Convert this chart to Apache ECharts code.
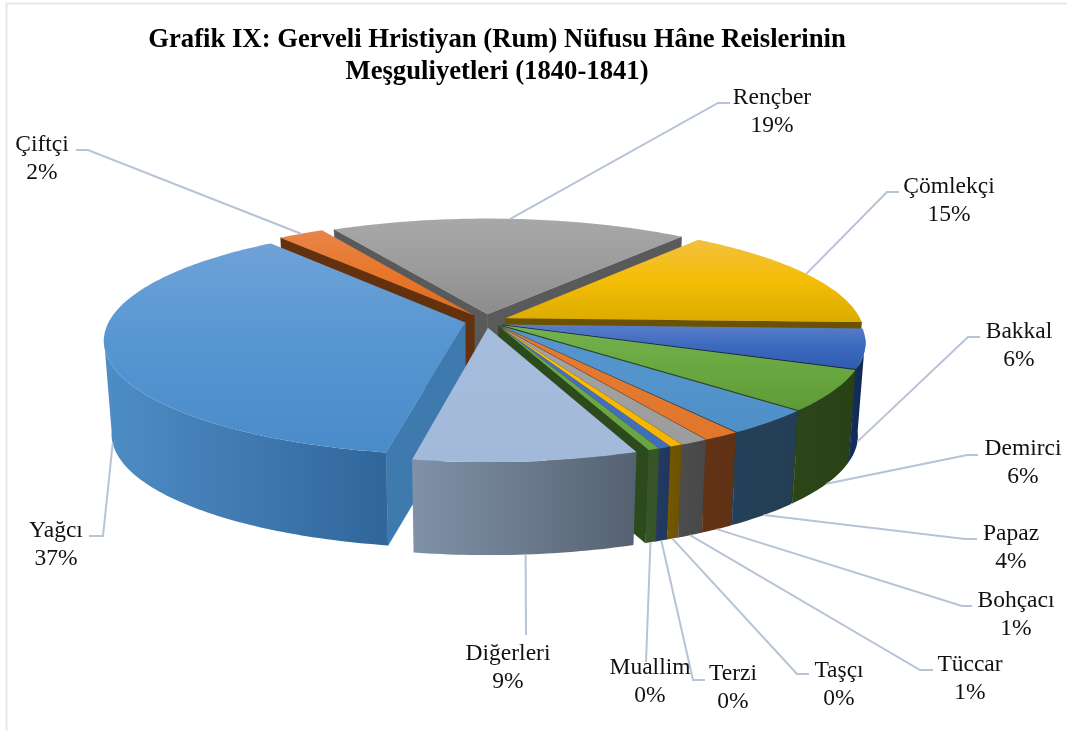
<!DOCTYPE html>
<html>
<head>
<meta charset="utf-8">
<title>Grafik IX</title>
<style>
	html, body { margin: 0; padding: 0; background: #fff; }
	#chart { width: 1067px; height: 731px; }
</style>
</head>
<body>
<div id="chart"></div>
<script src="https://cdn.jsdelivr.net/npm/echarts@6/dist/echarts.min.js"></script>
<script>
	let categories = ['Yağcı', 'Çiftçi', 'Rençber', 'Çömlekçi', 'Bakkal', 'Demirci', 'Papaz', 'Bohçacı', 'Tüccar', 'Taşçı', 'Terzi', 'Muallim', 'Diğerleri'];
	// in percent
	let shares = [36.55, 2.4, 18.7, 15.0, 5.52, 5.7, 3.55, 1.44, 1.08, 0.49, 0.48, 0.44, 8.65];

	// top face: light, mid, dark
	let topColors = [
		['#6FA2D7', '#5595D2', '#4A8BC9'],
		['#E8854A', '#E8772B', '#E26D1C'],
		['#A8A8A8', '#9C9C9C', '#8C8C8C'],
		['#F2C03F', '#F5BD05', '#DBAB00'],
		['#5A7EC8', '#3B69BF', '#2F5CAE'],
		['#75B150', '#69A840', '#5F9A38'],
		['#5495CE', '#5394CD', '#4F8FC8'],
		['#E2792E', '#E2792E', '#E0772C'],
		['#A3A3A3', '#A0A0A0', '#9C9C9C'],
		['#FFC000', '#FBBA00', '#F5B500'],
		['#4472C4', '#4270BF', '#3F6CBB'],
		['#70AD47', '#6CA944', '#68A540'],
		['#A6BCDC', '#A4BBDB', '#A2B9D9']
	];
	// outer wall: left, right
	let wallColors = [
		['#4E8DC5', '#30669A'],
		['#64310F', '#64310F'],
		['#555555', '#555555'],
		['#6B5200', '#6B5200'],
		['#14305F', '#112850'],
		['#2C4619', '#284115'],
		['#254159', '#233E54'],
		['#633316', '#5F3115'],
		['#4D4D4D', '#484848'],
		['#745700', '#6C5200'],
		['#223A66', '#20365F'],
		['#38572A', '#355323'],
		['#8092A9', '#556170']
	];
	// the two cut faces of a slice
	let cutColors = ['#3F7AAE', '#64310F', '#5A5A5A', '#6B5200', '#14284F', '#2A431A', '#243F55', '#5F3316', '#4A4A4A', '#6E5300', '#203864', '#2D4A1C', '#566373'];

	// label placement: centre of the text, then the bend and the end of its leader line
	let labelPlaces = [
		{ x: 56, y: 531, line: [[103, 536], [89, 536]] },
		{ x: 42, y: 145, line: [[88, 150], [76, 150]] },
		{ x: 772, y: 98, line: [[718, 103], [730, 103]] },
		{ x: 949, y: 187, line: [[887, 192], [899, 192]] },
		{ x: 1019, y: 332, line: [[968, 337], [980, 337]] },
		{ x: 1023, y: 449, line: [[967, 455], [978, 455]] },
		{ x: 1011, y: 534, line: [[965, 539], [977, 539]] },
		{ x: 1016, y: 601, line: [[962, 606], [972, 606]] },
		{ x: 970, y: 665, line: [[920, 670], [933, 670]] },
		{ x: 839, y: 671, line: [[797, 674], [809, 674]] },
		{ x: 733, y: 674, line: [[693, 680], [705, 680]] },
		{ x: 650, y: 668, line: [[646, 662]] },
		{ x: 508, y: 654, line: [[526, 635]] }
	];

	// 3D pie set up
	let firstAngle = 190.4;	// degrees clockwise from the back of the pie
	let cx = 486, cy = 321;
	let radius = 356;
	let squash = 112;	// vertical half size of the disc before perspective
	let persp = 0.15;
	let depth = 93;
	let taper = 0.02;	// the bottom ring is a bit narrower
	let explode = 0.06;
	// the narrow front slices nearly move as one block, their walls touch
	let blockFrom = 4, blockTo = 11;
	let blockAngle = 135;
	let blockMix = 0.35;

	let total = shares.reduce(function (a, b) { return a + b; }, 0);
	let rad = Math.PI / 180;

	let slices = [];
	let running = firstAngle;
	shares.forEach(function (v, i) {
		let start = running;
		let end = start + v / total * 360;
		let mid = (start + end) / 2;
		let dx = explode * Math.sin(mid * rad);
		let dy = explode * Math.cos(mid * rad);
		if (i >= blockFrom && i <= blockTo) {
			dx = blockMix * dx + (1 - blockMix) * explode * Math.sin(blockAngle * rad);
			dy = blockMix * dy + (1 - blockMix) * explode * Math.cos(blockAngle * rad);
		}
		slices.push({ start: start, end: end, mid: mid, dx: dx, dy: dy });
		running = end;
	});

	// back slices get drawn first
	let order = slices.map(function (s, i) { return i; }).sort(function (a, b) {
		return Math.cos(slices[b].mid * rad) - Math.cos(slices[a].mid * rad);
	});
	let rank = [];
	order.forEach(function (idx, r) { rank[idx] = r; });

	function project(x, y, z) {
		let d = 1 + persp * y;
		return [
			cx + radius * x * (1 - taper * z) / d,
			cy - squash * y / d + depth * z
		];
	}

	function rimPoint(s, ang, z) {
		return project(s.dx + Math.sin(ang * rad), s.dy + Math.cos(ang * rad), z);
	}

	// angles along the rim of a slice, both ends included
	function arcAngles(s) {
		let steps = Math.max(4, Math.ceil(s.end - s.start));
		let out = [];
		for (let k = 0; k <= steps; k++) {
			out.push(s.start + (s.end - s.start) * k / steps);
		}
		return out;
	}

	function gradient(dir, stops) {
		return {
			type: 'linear',
			x: 0, y: 0,
			x2: dir === 'h' ? 1 : 0,
			y2: dir === 'h' ? 0 : 1,
			colorStops: stops.map(function (c, i) {
				return { offset: i / (stops.length - 1), color: c };
			})
		};
	}

	// does the cut face on this edge look towards the camera
	function cutVisible(s, ang, isStart) {
		let sign = isStart ? -1 : 1;
		let nx = sign * Math.cos(ang * rad);
		let ny = -sign * Math.sin(ang * rad);
		let px = s.dx + 0.5 * Math.sin(ang * rad);
		let py = s.dy + 0.5 * Math.cos(ang * rad);
		return nx * (-px) + ny * (-1 / persp - py) > 0;
	}

	function cutFace(s, ang, i, z2) {
		let a0 = project(s.dx, s.dy, 0);
		let a1 = project(s.dx, s.dy, 1);
		return {
			type: 'polygon',
			z2: z2,
			shape: { points: [a0, rimPoint(s, ang, 0), rimPoint(s, ang, 1), a1] },
			style: { fill: cutColors[i], stroke: cutColors[i], lineWidth: 0.5 }
		};
	}

	function renderSlice(params, api) {
		let i = params.dataIndex;
		let s = slices[i];
		let share = api.value(0);
		let base = rank[i] * 10;
		let angles = arcAngles(s);
		let children = [];

		if (cutVisible(s, s.start, true)) children.push(cutFace(s, s.start, i, base));
		if (cutVisible(s, s.end, false)) children.push(cutFace(s, s.end, i, base + 1));

		// outer wall, only the arc that faces the front
		let upper = [], lower = [];
		angles.forEach(function (a) {
			if (s.dy + Math.cos(a * rad) < -persp) {
				upper.push(rimPoint(s, a, 0));
				lower.push(rimPoint(s, a, 1));
			}
		});
		if (upper.length > 1) {
			children.push({
				type: 'polygon',
				z2: base + 2,
				shape: { points: upper.concat(lower.reverse()) },
				style: { fill: gradient('h', wallColors[i]) }
			});
		}

		// top face
		let face = [project(s.dx, s.dy, 0)];
		angles.forEach(function (a) {
			face.push(rimPoint(s, a, 0));
		});
		children.push({
			type: 'polygon',
			z2: base + 3,
			shape: { points: face },
			style: { fill: gradient('v', topColors[i]) }
		});

		// leader line and label
		let onTop = s.dy + Math.cos(s.mid * rad) > -persp;
		let place = labelPlaces[i];
		children.push({
			type: 'polyline',
			z2: 500,
			shape: { points: [rimPoint(s, s.mid, onTop ? 0 : 1)].concat(place.line) },
			style: { stroke: '#B7C3D6', lineWidth: 2, fill: 'none' }
		});
		children.push({
			type: 'text',
			z2: 501,
			style: {
				text: categories[i] + '\n' + Math.round(share / total * 100) + '%',
				x: place.x,
				y: place.y - 14,
				align: 'center',
				verticalAlign: 'top',
				lineHeight: 28,
				font: '23.5px "Liberation Serif"',
				fill: '#111'
			}
		});
		return { type: 'group', children: children };
	}

	let chart = echarts.init(document.getElementById('chart'), null, { renderer: 'canvas' });
	chart.setOption({
		animation: false,
		backgroundColor: '#fff',
		title: {
			text: 'Grafik IX: Gerveli Hristiyan (Rum) Nüfusu Hâne Reislerinin\nMeşguliyetleri (1840-1841)',
			left: 492,
			top: 19,
			textAlign: 'center',
			textStyle: {
				fontFamily: 'Liberation Serif',
				fontWeight: 'bold',
				fontSize: 26.7,
				lineHeight: 32,
				color: '#000'
			}
		},
		graphic: [{
			type: 'rect',
			shape: { x: 6.5, y: 3.5, width: 1200, height: 900 },
			style: { fill: 'none', stroke: '#E4E9F0', lineWidth: 2 },
			silent: true
		}],
		series: [{
			type: 'custom',
			coordinateSystem: 'none',
			silent: true,
			renderItem: renderSlice,
			data: shares.map(function (v) { return [v]; })
		}]
	});
</script>
</body>
</html>
